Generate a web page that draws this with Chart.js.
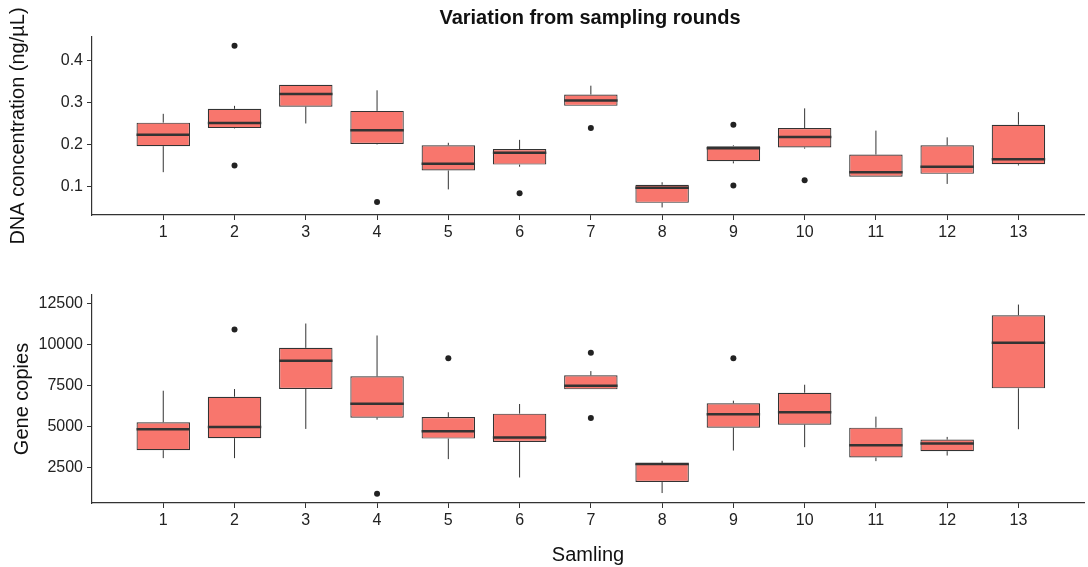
<!DOCTYPE html>
<html>
<head>
<meta charset="utf-8">
<script src="https://cdn.jsdelivr.net/npm/chart.js@4/dist/chart.umd.min.js"></script>
<style>
    body { margin: 0; background: #fff; }
    #wrap { position: relative; width: 1088px; height: 567px; font-family: "Liberation Sans", Arial, sans-serif; }
    #title { position: absolute; left: 92px; width: 996px; top: 6px; text-align: center; font-size: 20px; font-weight: bold; color: #111; }
    #topBox { position: absolute; left: 0; top: 0; width: 1088px; height: 262px; }
    #bottomBox { position: absolute; left: 0; top: 262px; width: 1088px; height: 305px; }
</style>
</head>
<body>
<div id="wrap">
    <div id="topBox"><canvas id="dnaChart"></canvas></div>
    <div id="bottomBox"><canvas id="geneChart"></canvas></div>
    <div id="title">Variation from sampling rounds</div>
</div>
<script>
// sampling rounds
const rounds = [1, 2, 3, 4, 5, 6, 7, 8, 9, 10, 11, 12, 13];

// DNA concentration (ng/uL) - box stats per round
const dnaLow  = [0.134, 0.238, 0.250, 0.200, 0.093, 0.147, 0.292, 0.050, 0.155, 0.190, 0.123, 0.106, 0.150];
const dnaQ1   = [0.196, 0.239, 0.290, 0.201, 0.138, 0.152, 0.292, 0.061, 0.160, 0.193, 0.123, 0.130, 0.153];
const dnaMed  = [0.223, 0.251, 0.320, 0.234, 0.154, 0.180, 0.305, 0.097, 0.191, 0.218, 0.134, 0.147, 0.165];
const dnaQ3   = [0.252, 0.285, 0.342, 0.280, 0.198, 0.189, 0.319, 0.104, 0.196, 0.239, 0.176, 0.198, 0.247];
const dnaHigh = [0.273, 0.292, 0.342, 0.329, 0.204, 0.211, 0.340, 0.110, 0.198, 0.286, 0.233, 0.217, 0.277];
const dnaOutRound = [2, 2, 4, 6, 7, 9, 9, 10];
const dnaOutValue = [0.435, 0.150, 0.063, 0.084, 0.239, 0.247, 0.102, 0.115];
const dnaTicks = [0.1, 0.2, 0.3, 0.4];

// Gene copies - box stats per round
const geneLow  = [3072, 3072, 4854, 5420, 3011, 1892, 7269, 943, 3534, 3741, 2889, 3230, 4836];
const geneQ1   = [3558, 4288, 7287, 5541, 4264, 4063, 7269, 1612, 4933, 5116, 3108, 3498, 7330];
const geneMed  = [4836, 4976, 9009, 6393, 4714, 4325, 7488, 2707, 5748, 5870, 3863, 3960, 10104];
const geneQ3   = [5262, 6819, 9800, 8060, 5584, 5785, 8121, 2743, 6417, 7062, 4933, 4203, 11789];
const geneHigh = [7184, 7287, 11284, 10554, 5870, 6375, 8382, 2908, 6576, 7549, 5602, 4367, 12440];
const geneOutRound = [2, 4, 5, 7, 7, 9];
const geneOutValue = [10919, 900, 9173, 9496, 5523, 9173];
const geneTicks = [2500, 5000, 7500, 10000, 12500];

const boxFill = '#F8766D';
const lineCol = '#333333';
const fontFam = '"Liberation Sans", Arial, sans-serif';

function BoxChartRender(canvasId, s) {
    const ctx = document.getElementById(canvasId).getContext('2d');

    // whiskers + medians, drawn with the chart's own scales
    const boxExtras = {
        id: 'boxExtras',
        afterDatasetsDraw(chart) {
            const c = chart.ctx;
            const x = chart.scales.x;
            const y = chart.scales.y;
            const bars = chart.getDatasetMeta(0).data;
            c.save();
            c.strokeStyle = lineCol;
            for (let i = 0; i < rounds.length; i++) {
                const px = x.getPixelForValue(rounds[i]);
                c.lineWidth = 1;
                c.beginPath();
                c.moveTo(px, y.getPixelForValue(s.high[i]));
                c.lineTo(px, y.getPixelForValue(s.q3[i]));
                c.moveTo(px, y.getPixelForValue(s.q1[i]));
                c.lineTo(px, y.getPixelForValue(s.low[i]));
                c.stroke();

                const half = bars[i].width / 2;
                const my = y.getPixelForValue(s.med[i]);
                c.lineWidth = 2.5;
                c.beginPath();
                c.moveTo(bars[i].x - half, my);
                c.lineTo(bars[i].x + half, my);
                c.stroke();
            }
            c.restore();
        }
    };

    const boxes = rounds.map((r, i) => ({ x: r, y: [s.q1[i], s.q3[i]] }));
    const outliers = s.outRound.map((r, i) => ({ x: r, y: s.outValue[i] }));

    return new Chart(ctx, {
        type: 'bar',
        plugins: [boxExtras],
        data: {
            datasets: [{
                data: boxes,
                backgroundColor: boxFill,
                borderColor: lineCol,
                borderWidth: 1.2,
                borderSkipped: false,
                categoryPercentage: 1,
                barPercentage: 0.75,
            }, {
                type: 'scatter',
                data: outliers,
                pointRadius: 3,
                pointBackgroundColor: '#222',
                pointBorderWidth: 0,
            }]
        },
        options: {
            responsive: false,
            animation: false,
            layout: { padding: { top: s.padTop, right: 0, left: 0, bottom: 0 } },
            plugins: {
                legend: { display: false },
                title: { display: false },
                tooltip: { enabled: false },
            },
            scales: {
                x: {
                    type: 'linear',
                    min: 0,
                    max: 13.92,
                    offset: false,
                    grid: { display: true, drawOnChartArea: false, offset: false, tickLength: 5, color: lineCol },
                    border: { display: true, color: lineCol, width: 1.2 },
                    afterBuildTicks: function (scale) {
                        scale.ticks = rounds.map(v => ({ value: v }));
                    },
                    afterFit: function (scale) {
                        scale.height = s.xHeight;
                    },
                    ticks: {
                        color: '#222',
                        padding: 3,
                        maxRotation: 0,
                        autoSkip: false,
                        font: { family: fontFam, size: 16 },
                        callback: function (value) { return String(value); }
                    },
                    title: {
                        display: !!s.xTitle,
                        text: s.xTitle || '',
                        color: '#111',
                        padding: { top: 5, bottom: 0 },
                        font: { family: fontFam, size: 20 }
                    }
                },
                y: {
                    type: 'linear',
                    min: s.yMin,
                    max: s.yMax,
                    grid: { display: true, drawOnChartArea: false, tickLength: 5, color: lineCol },
                    border: { display: true, color: lineCol, width: 1.2 },
                    afterBuildTicks: function (scale) {
                        scale.ticks = s.ticks.map(v => ({ value: v }));
                    },
                    afterFit: function (scale) {
                        scale.width = 92;
                    },
                    ticks: {
                        color: '#222',
                        padding: 4,
                        font: { family: fontFam, size: 16 },
                        callback: s.tickFmt
                    },
                    title: {
                        display: true,
                        text: s.yTitle,
                        color: '#111',
                        padding: { top: s.yTitlePad, bottom: 0 },
                        font: { family: fontFam, size: 20 }
                    }
                }
            }
        }
    });
}

document.getElementById('dnaChart').width = 1088;
document.getElementById('dnaChart').height = 262;
document.getElementById('geneChart').width = 1088;
document.getElementById('geneChart').height = 305;

BoxChartRender('dnaChart', {
    low: dnaLow, q1: dnaQ1, med: dnaMed, q3: dnaQ3, high: dnaHigh,
    outRound: dnaOutRound, outValue: dnaOutValue,
    ticks: dnaTicks, yMin: 0.032, yMax: 0.456,
    tickFmt: v => v.toFixed(1),
    yTitle: 'DNA concentration (ng/\u00B5L)', yTitlePad: 6,
    padTop: 37, xHeight: 47
});

BoxChartRender('geneChart', {
    low: geneLow, q1: geneQ1, med: geneMed, q3: geneQ3, high: geneHigh,
    outRound: geneOutRound, outValue: geneOutValue,
    ticks: geneTicks, yMin: 335, yMax: 13024,
    tickFmt: v => String(v),
    yTitle: 'Gene copies', yTitlePad: 10,
    xTitle: 'Samling',
    padTop: 33, xHeight: 64
});
</script>
</body>
</html>
